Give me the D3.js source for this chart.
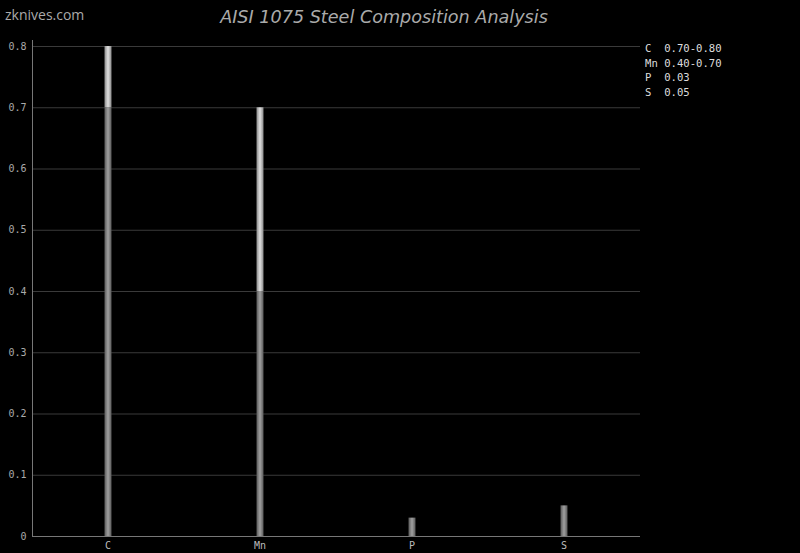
<!DOCTYPE html>
<html><head><meta charset="utf-8">
<script src="https://cdn.jsdelivr.net/npm/d3@7"></script>
<style>body{margin:0;background:#000;}svg{display:block;}</style>
</head><body>
<script>
const categories = ["C", "Mn", "P", "S"];
const minValues = [0.70, 0.40, 0.03, 0.05];
const maxValues = [0.80, 0.70, 0.03, 0.05];
const legendLabels = ["C  0.70-0.80", "Mn 0.40-0.70", "P  0.03", "S  0.05"];
const yTicks = [0, 0.1, 0.2, 0.3, 0.4, 0.5, 0.6, 0.7, 0.8];

const W = 800, H = 553;
const margin = {left: 32, right: 160, top: 46, bottom: 17};
const svg = d3.select("body").append("svg").attr("width", W).attr("height", H).style("background", "#000");

const defs = svg.append("defs");
function grad(id, edge, mid) {
  const g = defs.append("linearGradient").attr("id", id).attr("x1", "0").attr("x2", "1").attr("y1", "0").attr("y2", "0");
  g.append("stop").attr("offset", "0%").attr("stop-color", edge);
  g.append("stop").attr("offset", "50%").attr("stop-color", mid);
  g.append("stop").attr("offset", "100%").attr("stop-color", edge);
}
grad("gLow", "#5a5a5a", "#a0a0a0");
grad("gHigh", "#8a8a8a", "#e0e0e0");

const x = d3.scaleBand().domain(categories).range([margin.left, W - margin.right]);
const y = d3.scaleLinear().domain([0, 0.8]).range([H - margin.bottom, margin.top]);

// grid
svg.append("g").selectAll("line").data(yTicks.filter(d => d > 0)).join("line")
  .attr("x1", margin.left).attr("x2", W - margin.right)
  .attr("y1", d => y(d) + 0.5).attr("y2", d => y(d) + 0.5)
  .attr("stroke", "#3a3a3a").attr("stroke-width", 1);

// y axis
const yAxis = svg.append("g").attr("transform", `translate(${margin.left + 0.5},0)`)
  .call(d3.axisLeft(y).tickValues(yTicks).tickFormat(d => d === 0 ? "0" : d3.format(".1f")(d)).tickSize(0).tickPadding(6));
yAxis.select(".domain").attr("stroke", "#777").attr("d", `M0,${y(0.8) - 6}V${y(0)}`);
yAxis.selectAll("text").attr("fill", "#aaa").attr("font-family", "DejaVu Sans Mono, monospace").attr("font-size", 10);

// x axis
const xAxis = svg.append("g").attr("transform", `translate(0,${y(0) + 0.5})`)
  .call(d3.axisBottom(x).tickSize(0).tickPadding(5));
xAxis.select(".domain").attr("stroke", "#777").attr("d", `M${margin.left},0H${W - margin.right}`);
xAxis.selectAll("text").attr("fill", "#bbbbbb").style("fill", "#bbbbbb").attr("font-family", "DejaVu Sans Mono, monospace").attr("font-size", 10);

// bars
const bw = 7;
const rows = categories.map((c, i) => ({c, lo: minValues[i], hi: maxValues[i]}));
const bars = svg.append("g");
bars.selectAll("rect.low").data(rows).join("rect").attr("class", "low")
  .attr("x", d => x(d.c) + x.bandwidth() / 2 - bw / 2)
  .attr("width", bw)
  .attr("y", d => y(d.lo)).attr("height", d => y(0) - y(d.lo))
  .attr("fill", "url(#gLow)");
bars.selectAll("rect.high").data(rows.filter(d => d.hi > d.lo)).join("rect").attr("class", "high")
  .attr("x", d => x(d.c) + x.bandwidth() / 2 - bw / 2)
  .attr("width", bw)
  .attr("y", d => y(d.hi)).attr("height", d => y(d.lo) - y(d.hi))
  .attr("fill", "url(#gHigh)");

// legend
svg.append("g").selectAll("text").data(legendLabels).join("text")
  .attr("x", 645).attr("y", (d, i) => 52 + i * 14.7)
  .attr("fill", "#ddd").attr("font-family", "DejaVu Sans Mono, monospace").attr("font-size", 10.6)
  .attr("xml:space", "preserve").style("white-space", "pre")
  .text(d => d);

// title
svg.append("text").attr("x", 384).attr("y", 23).attr("text-anchor", "middle")
  .attr("fill", "#aaa").attr("font-family", "DejaVu Sans, sans-serif").attr("font-style", "italic").attr("font-size", 17.6)
  .text("AISI 1075 Steel Composition Analysis");

svg.append("text").attr("x", 5).attr("y", 20)
  .attr("fill", "#aaa").attr("font-family", "Open Sans, sans-serif").attr("font-size", 14)
  .text("zknives.com");
</script>
</body></html>
